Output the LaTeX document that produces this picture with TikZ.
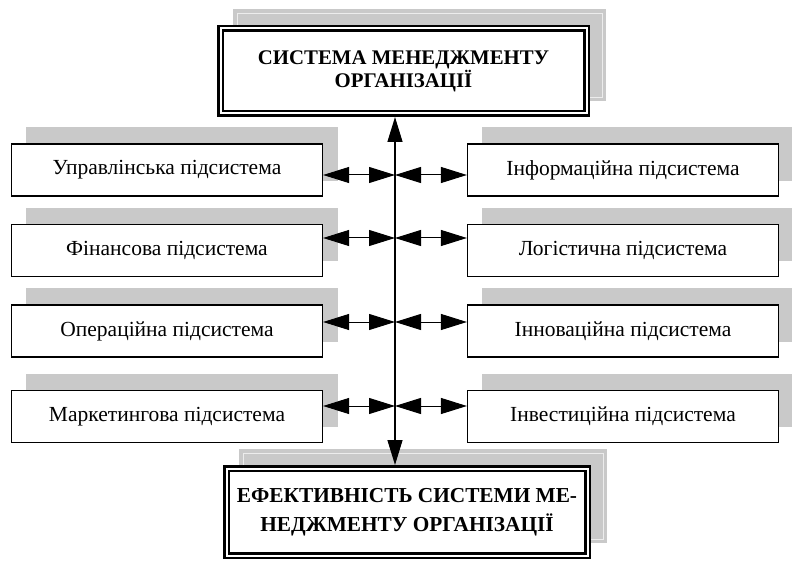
\documentclass[tikz,border=0pt]{standalone}
\usepackage{fontspec}
\setmainfont{Liberation Serif}
\usetikzlibrary{arrows.meta,calc}
\pgfdeclarelayer{bg}
\pgfsetlayers{bg,main}
\begin{document}
\begin{tikzpicture}[x=1pt,y=-1pt,
  sub/.style={draw, line width=1.2pt, fill=white, minimum width=311pt, minimum height=52pt, inner sep=0pt,
    font=\fontsize{21.5}{24}\selectfont},
  mainbox/.style={draw, double, line width=2.5pt, double distance=2pt, fill=white, outer sep=3.5pt,
    inner sep=0pt, align=center},
  shadefill/.style={fill=gray!42},
  conn/.style={line width=1pt, {Triangle[length=26pt,width=16pt]}-{Triangle[length=26pt,width=16pt]}},
  vconn/.style={line width=1.3pt, {Triangle[length=25pt,width=15pt]}-{Triangle[length=25pt,width=15pt]}},
]
\useasboundingbox (0,0) rectangle (792,561);
\clip (0,0) rectangle (792,561);

% main boxes
\node[mainbox, minimum width=366pt, minimum height=85pt,
  font=\fontsize{20.8}{23}\selectfont\bfseries] (top) at (403.5,71)
  {СИСТЕМА МЕНЕДЖМЕНТУ\\ОРГАНІЗАЦІЇ};
\node[mainbox, minimum width=361pt, minimum height=87pt,
  font=\fontsize{21.3}{29}\selectfont\bfseries] (bot) at (407,512)
  {ЕФЕКТИВНІСТЬ СИСТЕМИ МЕ-\\НЕДЖМЕНТУ ОРГАНІЗАЦІЇ};

% subsystem boxes
\node[sub] (l1) at (167,170) {Управлінська підсистема};
\node[sub] (l2) at (167,250.5) {Фінансова підсистема};
\node[sub] (l3) at (167,331) {Операційна підсистема};
\node[sub] (l4) at (167,416.5) {Маркетингова підсистема};
\node[sub] (r1) at (623,170) {Інформаційна підсистема};
\node[sub] (r2) at (623,250.5) {Логістична підсистема};
\node[sub] (r3) at (623,331) {Інноваційна підсистема};
\node[sub] (r4) at (623,416.5) {Інвестиційна підсистема};

% shadows
\begin{pgfonlayer}{bg}
  \foreach \n in {l1,l2,l3,l4,r1,r2,r3,r4}{
    \fill[shadefill] ([shift={(15,-16)}]\n.south west) rectangle ([shift={(15,-16)}]\n.north east);
  }
  \foreach \n in {top,bot}{
    \fill[shadefill] ([shift={(16,-16)}]\n.south west) rectangle ([shift={(16,-16)}]\n.north east);
    \draw[gray!15, line width=0.8pt] ([shift={(20,-20)}]\n.south west) rectangle ([shift={(12,-12)}]\n.north east);
  }
\end{pgfonlayer}

% connector points on the vertical axis
\coordinate (v1) at (395,175);
\coordinate (v2) at (395,238);
\coordinate (v3) at (395,322);
\coordinate (v4) at (395,406);

\draw[vconn] (top.south -| v1) -- (bot.north -| v1);

\foreach \i in {1,2,3,4}{
  \draw[conn] (l\i.east |- v\i) -- (v\i);
  \draw[conn] (v\i) -- (r\i.west |- v\i);
}
\end{tikzpicture}
\end{document}
